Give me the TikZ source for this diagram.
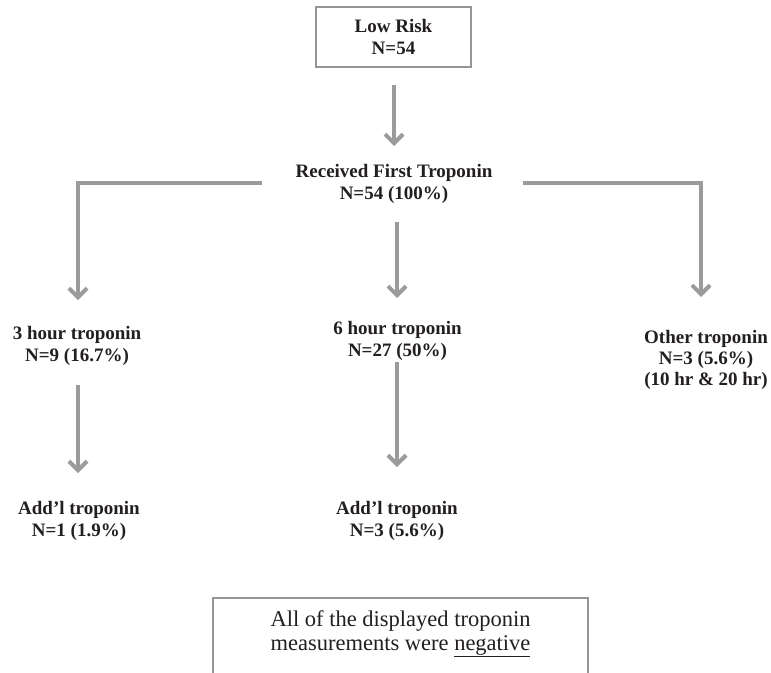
\documentclass[tikz,border=0pt]{standalone}
\usepackage{fontspec}
\setmainfont{Liberation Serif}
\usetikzlibrary{arrows.meta}
\definecolor{linegray}{RGB}{155,155,157}
\definecolor{boxgray}{RGB}{150,150,152}
\definecolor{ink}{RGB}{35,31,32}
\tikzset{
  lbl/.style={align=center, inner sep=0pt, text=ink, font=\fontsize{19}{22}\selectfont\bfseries},
  arr/.style={draw=linegray, line width=4pt, -{Straight Barb[length=9pt,width=18pt]}},
}
\begin{document}
\begin{tikzpicture}[x=1pt,y=-1pt]
\clip (0,0) rectangle (771,672);
\fill[white] (0,0) rectangle (771,672);

\node[lbl, draw=boxgray, line width=2.5pt, minimum width=155pt, minimum height=60pt] (low) at (393.5,37) {Low Risk\\N=54};
\node[lbl] (first) at (394,184) {Received First Troponin\\N=54 (100\%)};
\node[lbl] (h3) at (77,346) {3 hour troponin\\N=9 (16.7\%)};
\node[lbl] (h6) at (397.5,341) {6 hour troponin\\N=27 (50\%)};
\node[lbl, font=\fontsize{19}{21}\selectfont\bfseries] (other) at (706,360) {Other troponin\\N=3 (5.6\%)\\(10 hr \& 20 hr)};
\node[lbl] (add1) at (79,521) {Add’l troponin\\N=1 (1.9\%)};
\node[lbl] (add2) at (397,521) {Add’l troponin\\N=3 (5.6\%)};

\draw[boxgray, line width=1.5pt] (213,690) -- (213,598) -- (588,598) -- (588,690);
\node[align=center, inner sep=0pt, text=ink, font=\fontsize{22.5}{23.5}\selectfont] (note) at (400.5,634)
  {All of the displayed troponin\\measurements were \underline{negative}};

\coordinate (t1s) at (394,85);   \coordinate (t1e) at (394,146);
\coordinate (ls) at (262,183);   \coordinate (le) at (78,300);
\coordinate (rs) at (523,183);   \coordinate (re) at (701,297);
\coordinate (ms) at (397,222);   \coordinate (me) at (397,298);
\coordinate (a3s) at (78,385);   \coordinate (a3e) at (78,473);
\coordinate (a6s) at (397,362);  \coordinate (a6e) at (397,467);

\draw[arr] (t1s) -- (t1e);
\draw[arr] (ls) -| (le);
\draw[arr] (rs) -| (re);
\draw[arr] (ms) -- (me);
\draw[arr] (a3s) -- (a3e);
\draw[arr] (a6s) -- (a6e);
\end{tikzpicture}
\end{document}
